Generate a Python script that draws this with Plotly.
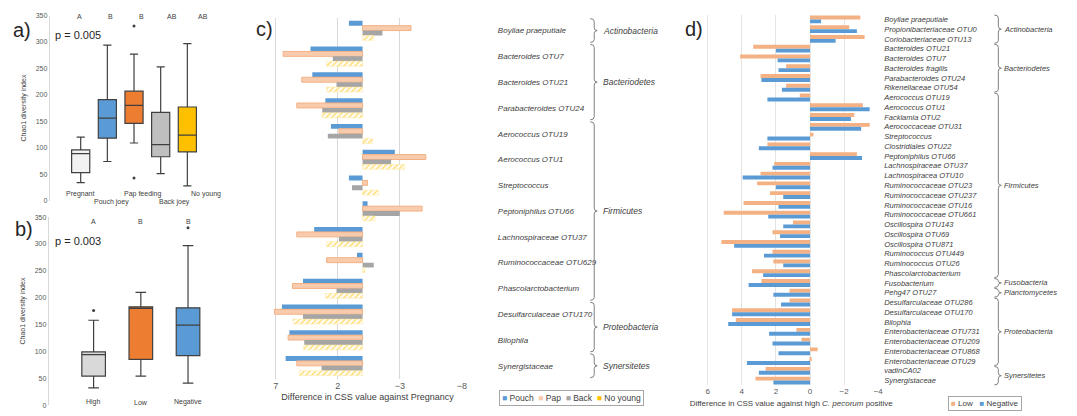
import plotly.graph_objects as go

W, H = 1077, 416
def PX(px): return px / W
def PY(py): return 1 - py / H

FONT = "Liberation Sans, Arial, sans-serif"
TXT = "#404040"
TCK = "#595959"

# ---------------- Panel a data ----------------
groups_a = ["Pregnant", "Pouch joey", "Pap feeding", "Back joey", "No young"]
letters_a = ["A", "B", "B", "AB", "AB"]
lower_a = [34, 74, 109, 51, 28]
q1_a = [53, 118, 146, 83, 92]
median_a = [89, 156, 180, 106, 124]
q3_a = [96, 191, 207, 167, 177]
upper_a = [120, 294, 277, 253, 297]
outliers_a = [[], [], [330, 43], [], []]
colors_a = ["#F2F2F2", "#5B9BD5", "#ED7D31", "#BFBFBF", "#FFC000"]

# ---------------- Panel b data ----------------
groups_b = ["High", "Low", "Negative"]
letters_b = ["A", "B", "B"]
lower_b = [32, 54, 41]
q1_b = [54, 85, 92]
median_b = [94, 180, 149]
q3_b = [99, 183, 181]
upper_b = [158, 210, 297]
outliers_b = [[176], [], [330]]
colors_b = ["#D9D9D9", "#ED7D31", "#5B9BD5"]

# ---------------- Panel c data ----------------
taxa_c = ["Boyliae praeputiale", "Bacteroides OTU7", "Bacteroides OTU21",
          "Parabacteroides OTU24", "Aerococcus OTU19", "Aerococcus OTU1",
          "Streptococcus", "Peptoniphilus OTU66", "Lachnospiraceae OTU37",
          "Ruminococcaceae OTU629", "Phascolarctobacterium",
          "Desulfarculaceae OTU170", "Bilophila", "Synergistaceae"]
pouch_c = [1.1, 4.2, 4.05, 3.0, 2.55, -2.6, 1.1, -0.4, 3.9, 0.45, 4.8, 6.5, 5.9, 6.2]
pap_c = [-3.9, 6.4, 4.9, 5.3, 1.9, -5.1, -0.4, -4.8, 5.3, 2.9, 5.65, 7.1, 6.0, 5.3]
back_c = [-1.6, 2.4, 2.1, 3.25, 2.8, -2.3, 0.85, -3.0, 1.9, -0.9, 2.1, 4.8, 4.7, 3.3]
noyoung_c = [-0.9, 2.9, 2.9, 3.25, -0.8, -3.4, -1.3, -1.0, 2.9, -0.2, 3.0, 5.6, 4.75, 5.1]
phyla_c = ["Actinobacteria", "Bacteriodetes", "Firmicutes", "Proteobacteria", "Synersitetes"]
phyla_c_sizes = [1, 3, 7, 2, 1]
ticks_c = [7, 2, -3, -8]

# ---------------- Panel d data ----------------
taxa_d = ["Boyliae praeputiale", "Propionibacteriaceae OTU0", "Coriobacteriaceae OTU13",
          "Bacteroides OTU21", "Bacteroides OTU7", "Bacteroides fragilis",
          "Parabacteroides OTU24", "Rikenellaceae OTU54", "Aerococcus OTU19",
          "Aerococcus OTU1", "Facklamia OTU2", "Aerococcaceae OTU31", "Streptococcus",
          "Clostridiales OTU22", "Peptoniphilus OTU66", "Lachnospiraceae OTU37",
          "Lachnospiracea OTU10", "Ruminococcaceae OTU23", "Ruminococcaceae OTU237",
          "Ruminococcaceae OTU16", "Ruminococcaceae OTU661", "Oscillospira OTU143",
          "Oscillospira OTU69", "Oscillospira OTU871", "Ruminococcus OTU449",
          "Ruminococcus OTU26", "Phascolarctobacterium", "Fusobacterium",
          "Pehg47 OTU27", "Desulfarculaceae OTU286", "Desulfarculaceae OTU170",
          "Bilophia", "Enterobacteriaceae OTU731", "Enterobacteriaceae OTU209",
          "Enterobacteriaceae OTU868", "Enterobacteriaceae OTU29", "vadinCA02",
          "Synergistaceae"]
low_d = [-2.95, -2.3, -3.2, 3.33, 4.1, 1.4, 2.9, 1.4, 0.6, -3.1, -2.6, -3.5, -0.2,
         2.5, -2.75, 2.1, 2.9, 3.1, 2.35, 3.9, 5.06, 1.0, 2.2, 5.2, 2.2, 2.15, 3.4,
         2.85, 1.2, 1.2, 4.57, 4.35, 0.8, 0.5, -0.45, -0.1, 2.6, 3.2]
negative_d = [-0.65, -2.75, -1.5, 2.0, 1.9, 1.85, 2.85, 1.65, 2.5, -3.5, -2.4, -3.0, 2.5,
              3.0, -3.05, 2.2, 3.95, 2.0, 1.57, 1.85, 2.45, 1.57, 1.76, 4.45, 2.7, 1.57,
              2.75, 3.6, 2.15, 1.7, 4.57, 4.8, 2.4, 2.2, 1.85, 3.7, 3.0, 2.15]
phyla_d = ["Actinobacteria", "Bacteriodetes", "Firmicutes", "Fusobacteria",
           "Planctomycetes", "Proteobacteria", "Synersitetes"]
phyla_d_sizes = [3, 5, 19, 1, 1, 7, 2]
ticks_d = [6, 4, 2, 0, -2, -4]

fig = go.Figure()

# ---- box plots ----
def add_boxes(xa, ya, lower, q1, med, q3, upper, outl, colors, width):
    for i in range(len(q1)):
        fig.add_trace(go.Box(
            x=[i], q1=[q1[i]], median=[med[i]], q3=[q3[i]],
            lowerfence=[lower[i]], upperfence=[upper[i]],
            fillcolor=colors[i], line=dict(color="#404040", width=1.2),
            width=width, whiskerwidth=0.45, boxpoints=False,
            xaxis=xa, yaxis=ya, showlegend=False, hoverinfo="skip"))
        if outl[i]:
            fig.add_trace(go.Scatter(
                x=[i] * len(outl[i]), y=outl[i], mode="markers",
                marker=dict(color="#404040", size=3), xaxis=xa, yaxis=ya,
                showlegend=False, hoverinfo="skip"))

add_boxes("x", "y", lower_a, q1_a, median_a, q3_a, upper_a, outliers_a, colors_a, 0.68)
add_boxes("x2", "y2", lower_b, q1_b, median_b, q3_b, upper_b, outliers_b, colors_b, 0.5)

# ---- panel c bars ----
wc = 0.19
series_c = [
    ("Pouch", pouch_c, dict(color="#5B9BD5", line=dict(width=0))),
    ("Pap", pap_c, dict(color="#F8CBAD", line=dict(color="#F4B183", width=1))),
    ("Back", back_c, dict(color="#A5A5A5", line=dict(width=0))),
    ("No young", noyoung_c, dict(color="#FFC000", line=dict(color="#FFE699", width=0.5),
                                 pattern=dict(shape="/", fgcolor="#FFC000", bgcolor="white",
                                              size=4, solidity=0.45))),
]
for k, (name, vals, mk) in enumerate(series_c):
    fig.add_trace(go.Bar(y=taxa_c, x=vals, orientation="h", name=name,
                         width=wc, offset=-2 * wc + k * wc, marker=mk,
                         xaxis="x3", yaxis="y3", showlegend=False))

# ---- panel d bars ----
wd = 0.4
fig.add_trace(go.Bar(y=taxa_d, x=low_d, orientation="h", name="Low", width=wd, offset=-wd,
                     marker=dict(color="#F4B183", line=dict(width=0)),
                     xaxis="x4", yaxis="y4", showlegend=False))
fig.add_trace(go.Bar(y=taxa_d, x=negative_d, orientation="h", name="Negative", width=wd, offset=0,
                     marker=dict(color="#5B9BD5", line=dict(width=0)),
                     xaxis="x4", yaxis="y4", showlegend=False))

# ---- geometry (pixels) ----
A_TOP, A_BOT = 11.7, 200
B_TOP, B_BOT = 216.7, 408
C_TOP, C_BOT, C_L, C_R = 13.9, 381.1, 274.5, 464
D_TOP, D_BOT, D_L, D_R = 10.7, 388, 707.6, 882.3

yax_box = dict(range=[0, 350], tickvals=list(range(0, 351, 50)), showgrid=False,
               zeroline=False, showline=True, linecolor="#D9D9D9", linewidth=1,
               ticks="", tickfont=dict(size=7, color=TCK, family=FONT),
               title=dict(text="Chao1 diversity index", font=dict(size=7, color=TXT), standoff=8))

layout = dict(
    width=W, height=H, autosize=False,
    margin=dict(l=0, r=0, t=0, b=0),
    paper_bgcolor="white", plot_bgcolor="white",
    font=dict(family=FONT, color=TXT),
    showlegend=False, barmode="overlay",
    xaxis=dict(domain=[PX(50), PX(215)], range=[-1.16, 5.0], visible=False, anchor="y"),
    yaxis=dict(domain=[PY(A_BOT), PY(A_TOP)], anchor="x", **yax_box),
    xaxis2=dict(domain=[PX(49), PX(215)], range=[-0.95, 2.55], visible=False, anchor="y2"),
    yaxis2=dict(domain=[PY(B_BOT), PY(B_TOP)], anchor="x2", **yax_box),
    xaxis3=dict(domain=[PX(C_L), PX(C_R)], range=[7.2, -8], tickvals=ticks_c,
                showgrid=True, gridcolor="#D9D9D9", zeroline=False, showline=False, ticks="",
                tickfont=dict(size=9, color=TCK), anchor="y3",
                title=dict(text="Difference in CSS value against Pregnancy",
                           font=dict(size=9, color=TXT), standoff=4)),
    yaxis3=dict(domain=[PY(C_BOT), PY(C_TOP)], type="category", range=[len(taxa_c) - 0.5, -0.5],
                side="right", anchor="x3", showgrid=False, showline=False, ticks="",
                tickfont=dict(size=8, color=TXT, style="italic"), ticklabelstandoff=35),
    xaxis4=dict(domain=[PX(D_L), PX(D_R)], range=[6.2, -4], tickvals=ticks_d,
                showgrid=True, gridcolor="#E3E3E3", zeroline=False, showline=False, ticks="",
                tickfont=dict(size=8, color=TCK), anchor="y4",
                title=dict(text="Difference in CSS value against high <i>C. pecorum</i> positive",
                           font=dict(size=8, color=TXT), standoff=4)),
    yaxis4=dict(domain=[PY(D_BOT), PY(D_TOP)], type="category", range=[len(taxa_d) - 0.5, -0.5],
                side="right", anchor="x4", showgrid=False, showline=False, ticks="",
                tickfont=dict(size=7.5, color=TXT, style="italic"), ticklabelstandoff=5),
)
fig.update_layout(**layout)

ann = []
def txt(x, y, s, size, xanchor="center", color=TXT, **kw):
    ann.append(dict(x=PX(x), y=PY(y), xref="paper", yref="paper", text=s, showarrow=False,
                    xanchor=xanchor, yanchor="middle", font=dict(size=size, color=color, family=FONT), **kw))

# panel labels
txt(22, 26, "a)", 20, color="#262626")
txt(24, 229, "b)", 20, color="#262626")
txt(266, 25, "c)", 20, color="#262626")
txt(697, 25, "d)", 20, color="#262626")
txt(53, 32, "p = 0.005", 11, xanchor="left", color="#262626")
txt(53, 241, "p = 0.003", 11, xanchor="left", color="#262626")

# letters and category labels (a)
for i, (g, l) in enumerate(zip(groups_a, letters_a)):
    txt(80 + 31 * i, 13, l, 7)
    txt(80 + 31.7 * i, 193 if i % 2 == 0 else 201, g, 7)
# (b)
b_centers = [94 + 47.5 * i for i in range(len(groups_b))]
for i, (g, l) in enumerate(zip(groups_b, letters_b)):
    txt(b_centers[i], 221, l, 7)
    txt(b_centers[i], 405, g, 7)

# phylum braces
shapes = []
def brace(bx, py0, py1, label, lx, size):
    pym = (py0 + py1) / 2
    h = min(3, (py1 - py0) / 4)
    pts = [(bx - 4, py0), (bx, py0), (bx, py0 + h), (bx, pym - h), (bx, pym), (bx + 3, pym),
           (bx, pym), (bx, pym + h), (bx, py1 - h), (bx, py1), (bx - 4, py1)]
    P = [(PX(a), PY(b)) for a, b in pts]
    path = (f"M {P[0][0]},{P[0][1]} Q {P[1][0]},{P[1][1]} {P[2][0]},{P[2][1]} "
            f"L {P[3][0]},{P[3][1]} Q {P[4][0]},{P[4][1]} {P[5][0]},{P[5][1]} "
            f"Q {P[6][0]},{P[6][1]} {P[7][0]},{P[7][1]} L {P[8][0]},{P[8][1]} "
            f"Q {P[9][0]},{P[9][1]} {P[10][0]},{P[10][1]}")
    shapes.append(dict(type="path", xref="paper", yref="paper", path=path,
                       line=dict(color="#808080", width=1)))
    ann.append(dict(x=PX(lx), y=PY(pym), xref="paper", yref="paper", text=f"<i>{label}</i>",
                    showarrow=False, xanchor="left", yanchor="middle",
                    font=dict(size=size, color=TXT, family=FONT)))

pitch_c = (C_BOT - C_TOP) / len(taxa_c)
start = 0
for name, n in zip(phyla_c, phyla_c_sizes):
    brace(597, C_TOP + start * pitch_c + 1, C_TOP + (start + n) * pitch_c - 1, name, 604, 8.5)
    start += n

pitch_d = (D_BOT - D_TOP) / len(taxa_d)
start = 0
for name, n in zip(phyla_d, phyla_d_sizes):
    brace(1003, D_TOP + start * pitch_d + 0.5, D_TOP + (start + n) * pitch_d - 0.5, name, 1007, 7.5)
    start += n

# legends (drawn as boxed text keys)
leg_c = "  ".join(f'<span style="color:{c}">■</span> {n}' for n, c in
                  [("Pouch", "#5B9BD5"), ("Pap", "#F8CBAD"), ("Back", "#A5A5A5"), ("No young", "#FFC000")])
ann.append(dict(x=PX(574.5), y=PY(400.5), xref="paper", yref="paper", text=leg_c, showarrow=False,
                xanchor="center", yanchor="middle", font=dict(size=8.5, color=TXT, family=FONT),
                bordercolor="#A6A6A6", borderwidth=1, borderpad=2, bgcolor="white"))
leg_d = "   ".join(f'<span style="color:{c}">■</span> {n}' for n, c in
                   [("Low", "#F4B183"), ("Negative", "#5B9BD5")])
ann.append(dict(x=PX(989.5), y=PY(406.5), xref="paper", yref="paper", text=leg_d, showarrow=False,
                xanchor="center", yanchor="middle", font=dict(size=8, color=TXT, family=FONT),
                bordercolor="#A6A6A6", borderwidth=1, borderpad=2, bgcolor="white"))

fig.update_layout(annotations=ann, shapes=shapes)
fig.write_html("out.html")
